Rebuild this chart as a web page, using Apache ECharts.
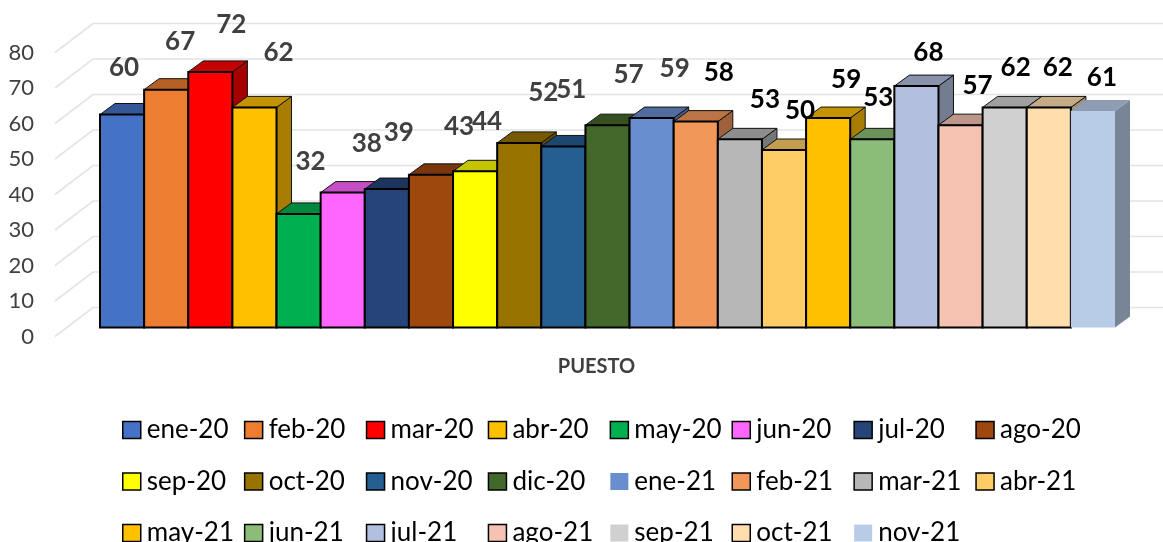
<!DOCTYPE html>
<html>
<head>
<meta charset="utf-8">
<style>
html, body { margin: 0; padding: 0; background: #fff; }
#chart { width: 1163px; height: 542px; }
</style>
<script src="https://cdn.jsdelivr.net/npm/echarts@6/dist/echarts.min.js"></script>
</head>
<body>
<div id="chart"></div>
<script>
var categories = ['PUESTO'];
var months = ['ene-20', 'feb-20', 'mar-20', 'abr-20', 'may-20', 'jun-20', 'jul-20', 'ago-20',
    'sep-20', 'oct-20', 'nov-20', 'dic-20', 'ene-21', 'feb-21', 'mar-21', 'abr-21',
    'may-21', 'jun-21', 'jul-21', 'ago-21', 'sep-21', 'oct-21', 'nov-21'];
var values = [60, 67, 72, 62, 32, 38, 39, 43, 44, 52, 51, 57, 59, 58, 53, 50, 59, 53, 68, 57, 62, 62, 61];
var yTicks = [0, 10, 20, 30, 40, 50, 60, 70, 80];
var colors = ['#4472C4', '#ED7D31', '#FF0000', '#FFC000', '#00B050', '#FF66FF', '#264478', '#9E480E',
    '#FFFF00', '#997300', '#255E91', '#43682B', '#698ED0', '#F1975A', '#B7B7B7', '#FFCD66',
    '#FFC000', '#8CBD78', '#B2BFDF', '#F6C3B2', '#D0D0D0', '#FFDDAD', '#B8CCE8'];

// los rotulos del original estan corridos a mano, desplazamiento respecto al tope de la barra
var labelShift = [[2, -47], [14, -49], [21, -48], [24, -55], [12, -53], [24, -49], [12, -57], [28, -49],
    [12, -50], [24, -51], [8, -57], [21, -51], [23, -50], [23, -49], [25, -40], [16, -40],
    [18, -39], [6, -42], [12, -34], [17, -40], [11, -40], [9, -40], [9, -34]];
var greyLabels = 13;          // los primeros rotulos van en gris, el resto en negro
var noBorderBars = ['nov-21'];
var noBorderLegend = ['ene-21', 'sep-21', 'nov-21'];

var DEPTH_X = 15, DEPTH_Y = -11;     // fondo de cada barra
var WALL_X = 38, WALL_Y = -29;       // piso del grafico
var FONT = 'Lato';

function shade(color, f) {
    return echarts.color.lerp(f, ['#000000', color]);
}

function renderBar(i) {
    return function (params, api) {
        var cs = params.coordSys;
        var w = cs.width / months.length;
        var x0 = cs.x + i * w;
        var x1 = x0 + w;
        var yTop = api.coord([0, api.value(1)])[1];
        var yBase = api.coord([0, 0])[1];
        var bordered = noBorderBars.indexOf(months[i]) < 0;
        var thin = bordered ? { stroke: '#111', lineWidth: 1 } : {};
        var shift = labelShift[i];
        return {
            type: 'group',
            children: [{
                type: 'polygon',
                shape: { points: [[x1, yTop], [x1 + DEPTH_X, yTop + DEPTH_Y], [x1 + DEPTH_X, yBase + DEPTH_Y], [x1, yBase]] },
                style: Object.assign({ fill: shade(colors[i], 0.65) }, thin)
            }, {
                type: 'polygon',
                shape: { points: [[x0, yTop], [x0 + DEPTH_X, yTop + DEPTH_Y], [x1 + DEPTH_X, yTop + DEPTH_Y], [x1, yTop]] },
                style: Object.assign({ fill: shade(colors[i], 0.77) }, thin)
            }, {
                type: 'rect',
                shape: { x: x0, y: yTop, width: w, height: yBase - yTop },
                style: bordered ? { fill: colors[i], stroke: '#000', lineWidth: 2 } : { fill: colors[i] }
            }, {
                type: 'text',
                z2: 100,
                silent: true,
                style: {
                    x: (x0 + x1) / 2 + shift[0],
                    y: yTop + shift[1] + 0.5,
                    text: String(api.value(1)),
                    align: 'center',
                    verticalAlign: 'middle',
                    fontFamily: FONT,
                    fontWeight: 'bold',
                    fontSize: 26,
                    fill: i < greyLabels ? '#404040' : '#000'
                }
            }]
        };
    };
}

function renderGridLine(params, api) {
    var p = api.coord([0, api.value(0)]);
    return {
        type: 'polyline',
        shape: { points: [p, [p[0] + WALL_X, p[1] + WALL_Y], [1163, p[1] + WALL_Y]] },
        style: { fill: 'none', stroke: '#E4E4E4', lineWidth: 1.6 }
    };
}

var series = [{
    type: 'custom',
    name: 'grid',
    xAxisIndex: 1,
    yAxisIndex: 1,
    silent: true,
    z: 1,
    clip: false,
    data: yTicks.map(function (t) { return [t]; }),
    encode: { y: 0 },
    renderItem: renderGridLine
}];

months.forEach(function (m, i) {
    series.push({
        type: 'custom',
        name: m,
        xAxisIndex: 0,
        yAxisIndex: 0,
        z: 2,
        clip: false,
        itemStyle: { color: colors[i] },
        data: [[0, values[i]]],
        encode: { x: 0, y: 1 },
        renderItem: renderBar(i)
    });
});

// leyenda en 8 columnas, 3 filas
var legends = [];
for (var c = 0; c < 8; c++) {
    legends.push({
        orient: 'vertical',
        left: 122 + c * 121.9,
        top: 417,
        height: 220,
        padding: 0,
        itemWidth: 18,
        itemHeight: 17,
        itemGap: 25.5,
        icon: 'rect',
        selectedMode: false,
        textStyle: { fontFamily: FONT, fontSize: 26, color: '#000', padding: [0, 0, 0, 1] },
        data: [months[c], months[c + 8], months[c + 16]].filter(Boolean).map(function (m) {
            return {
                name: m,
                itemStyle: noBorderLegend.indexOf(m) < 0
                    ? { borderColor: '#000', borderWidth: 1.5 }
                    : { borderWidth: 0 }
            };
        })
    });
}

var chart = echarts.init(document.getElementById('chart'), null, { renderer: 'canvas' });
chart.setOption({
    animation: false,
    backgroundColor: '#fff',
    legend: legends,
    grid: [
        { left: 100, top: 43.5, width: 1015, height: 284 },
        { left: 55, top: 52.5, width: 1015, height: 284 }
    ],
    xAxis: [{
        type: 'category',
        gridIndex: 0,
        data: categories,
        axisLine: { show: false },
        axisTick: { show: false },
        axisLabel: { margin: 29, padding: [0, 22, 0, 0], fontFamily: FONT, fontWeight: 'bold', fontSize: 20, color: '#404040' }
    }, {
        type: 'value',
        gridIndex: 1,
        min: 0,
        max: 1,
        show: false
    }],
    yAxis: [{
        type: 'value',
        gridIndex: 0,
        min: 0,
        max: 80,
        interval: 10,
        show: false
    }, {
        type: 'value',
        gridIndex: 1,
        min: 0,
        max: 80,
        interval: 10,
        axisLine: { show: false },
        axisTick: { show: false },
        splitLine: { show: false },
        axisLabel: { margin: 21, fontFamily: FONT, fontSize: 22, color: '#404040' }
    }],
    series: series
});
</script>
</body>
</html>
